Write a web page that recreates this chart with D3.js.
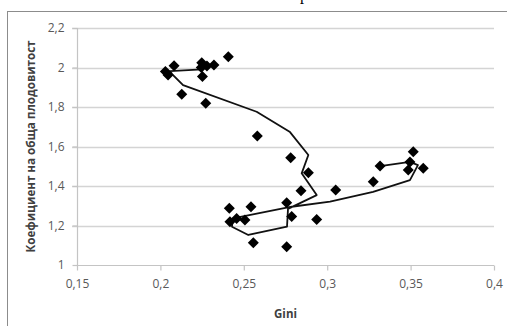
<!DOCTYPE html>
<html>
<head>
<meta charset="utf-8">
<script src="https://cdn.jsdelivr.net/npm/d3@7"></script>
<style>
  html, body { margin: 0; padding: 0; background: #fff; }
  svg { display: block; }
</style>
</head>
<body>
<div id="chart"></div>
<script>
// scatter points: Gini vs total fertility rate
const giniValues = [
  0.2407, 0.2082, 0.2030, 0.2046, 0.2245, 0.2248, 0.2279, 0.2321, 0.2252, 0.2128, 0.2272,
  0.2581, 0.2781, 0.2887, 0.2843, 0.2757, 0.2413, 0.2543, 0.2417, 0.2457, 0.2507,
  0.2787, 0.2937, 0.2557, 0.2757, 0.3051, 0.3276, 0.3317, 0.3516, 0.3486, 0.3496, 0.3576
];
const fertilityValues = [
  2.055, 2.009, 1.980, 1.962, 2.000, 2.024, 2.008, 2.013, 1.954, 1.864, 1.819,
  1.653, 1.543, 1.467, 1.376, 1.315, 1.287, 1.295, 1.219, 1.236, 1.228,
  1.245, 1.231, 1.113, 1.093, 1.380, 1.422, 1.501, 1.574, 1.481, 1.522, 1.490
];

// trend path (drawn as a connected line)
const lineGini = [
  0.2249, 0.2058, 0.2070, 0.2136, 0.2577, 0.2777, 0.2887, 0.2847, 0.2937, 0.2765,
  0.2759, 0.2527, 0.2429, 0.2435, 0.2787, 0.3017, 0.3275, 0.3496, 0.3544, 0.3496, 0.3317
];
const lineFertility = [
  1.991, 1.982, 1.967, 1.911, 1.776, 1.673, 1.557, 1.464, 1.354, 1.284,
  1.194, 1.152, 1.194, 1.236, 1.295, 1.321, 1.370, 1.430, 1.506, 1.522, 1.501
];

const xTicks = [0.15, 0.2, 0.25, 0.3, 0.35, 0.4];
const yTicks = [1, 1.2, 1.4, 1.6, 1.8, 2, 2.2];
const xTitle = 'Gini';
const yTitle = 'Коефициент на обща плодовитост';

const width = 507, height = 326;
const margin = { top: 28, right: 13, bottom: 61, left: 77 };

const svg = d3.select('#chart')
  .append('svg')
  .attr('width', width)
  .attr('height', height);

const fmt = v => String(+v.toFixed(2)).replace('.', ',');

const x = d3.scaleLinear()
  .domain([0.15, 0.4])
  .range([margin.left, width - margin.right]);

const y = d3.scaleLinear()
  .domain([1, 2.2])
  .range([height - margin.bottom, margin.top]);

// chart frame (right/bottom edges fall outside the picture)
svg.append('rect')
  .attr('x', 7.5)
  .attr('y', 11.5)
  .attr('width', 530)
  .attr('height', 340)
  .attr('fill', 'none')
  .attr('stroke', '#8c8c8c')
  .attr('stroke-width', 1);

// fragment of text above the chart
svg.append('text')
  .attr('x', 300)
  .attr('y', 0)
  .attr('font-family', 'Liberation Serif, serif')
  .attr('font-size', 16)
  .attr('fill', '#000')
  .text('р');

// gridlines
svg.append('g')
  .selectAll('line')
  .data(yTicks.filter(d => d !== 1))
  .enter().append('line')
  .attr('x1', x(0.15) - 5)
  .attr('x2', x(0.4))
  .attr('y1', d => Math.round(y(d)) + 0.5)
  .attr('y2', d => Math.round(y(d)) + 0.5)
  .attr('stroke', '#d4d4d4')
  .attr('stroke-width', 1.3);

// y axis
const yAxis = svg.append('g')
  .attr('transform', `translate(${x(0.15) + 0.5},0)`)
  .call(d3.axisLeft(y).tickValues(yTicks).tickFormat(fmt).tickSize(5).tickPadding(8));

// x axis
const xAxis = svg.append('g')
  .attr('transform', `translate(0,${Math.round(y(1)) + 0.5})`)
  .call(d3.axisBottom(x).tickValues(xTicks).tickFormat(fmt).tickSize(5).tickPadding(9));

[xAxis, yAxis].forEach(g => {
  g.select('.domain').attr('stroke', '#c4c4c4').attr('stroke-width', 1.2);
  g.selectAll('.tick line').attr('stroke', '#c4c4c4').attr('stroke-width', 1.2);
  g.selectAll('.tick text')
    .attr('fill', '#595959')
    .style('font-family', '"Open Sans", "Liberation Sans", sans-serif')
    .style('font-size', '12px');
});
// remove the x outer end cap from the domain path so it reads like Excel
xAxis.select('.domain').attr('d', `M${x(0.15)},0H${x(0.4)}`);
yAxis.select('.domain').attr('d', `M0,${y(1)}V${y(2.2)}`);

// trend line
const linePts = lineGini.map((g, i) => [g, lineFertility[i]]);
svg.append('path')
  .datum(linePts)
  .attr('fill', 'none')
  .attr('stroke', '#111')
  .attr('stroke-width', 1.8)
  .attr('stroke-linejoin', 'round')
  .attr('d', d3.line().x(d => x(d[0])).y(d => y(d[1])));

// points
const pts = giniValues.map((g, i) => [g, fertilityValues[i]]);
svg.append('g')
  .selectAll('path')
  .data(pts)
  .enter().append('path')
  .attr('transform', d => `translate(${x(d[0])},${y(d[1])})`)
  .attr('d', 'M0,-5.5L5.5,0L0,5.5L-5.5,0Z')
  .attr('fill', '#000');

// axis titles
svg.append('text')
  .attr('x', x(0.275))
  .attr('y', 318)
  .attr('text-anchor', 'middle')
  .attr('font-family', '"Open Sans", "Liberation Sans", sans-serif')
  .attr('font-size', 11.5)
  .attr('font-weight', 'bold')
  .attr('fill', '#404040')
  .text(xTitle);

svg.append('text')
  .attr('transform', `translate(35,${(y(1) + y(2.2)) / 2}) rotate(-90)`)
  .attr('text-anchor', 'middle')
  .attr('font-family', '"Open Sans", "Liberation Sans", sans-serif')
  .attr('font-size', 11.5)
  .attr('font-weight', 'bold')
  .attr('fill', '#404040')
  .attr('textLength', 212)
  .attr('lengthAdjust', 'spacingAndGlyphs')
  .text(yTitle);
</script>
</body>
</html>
